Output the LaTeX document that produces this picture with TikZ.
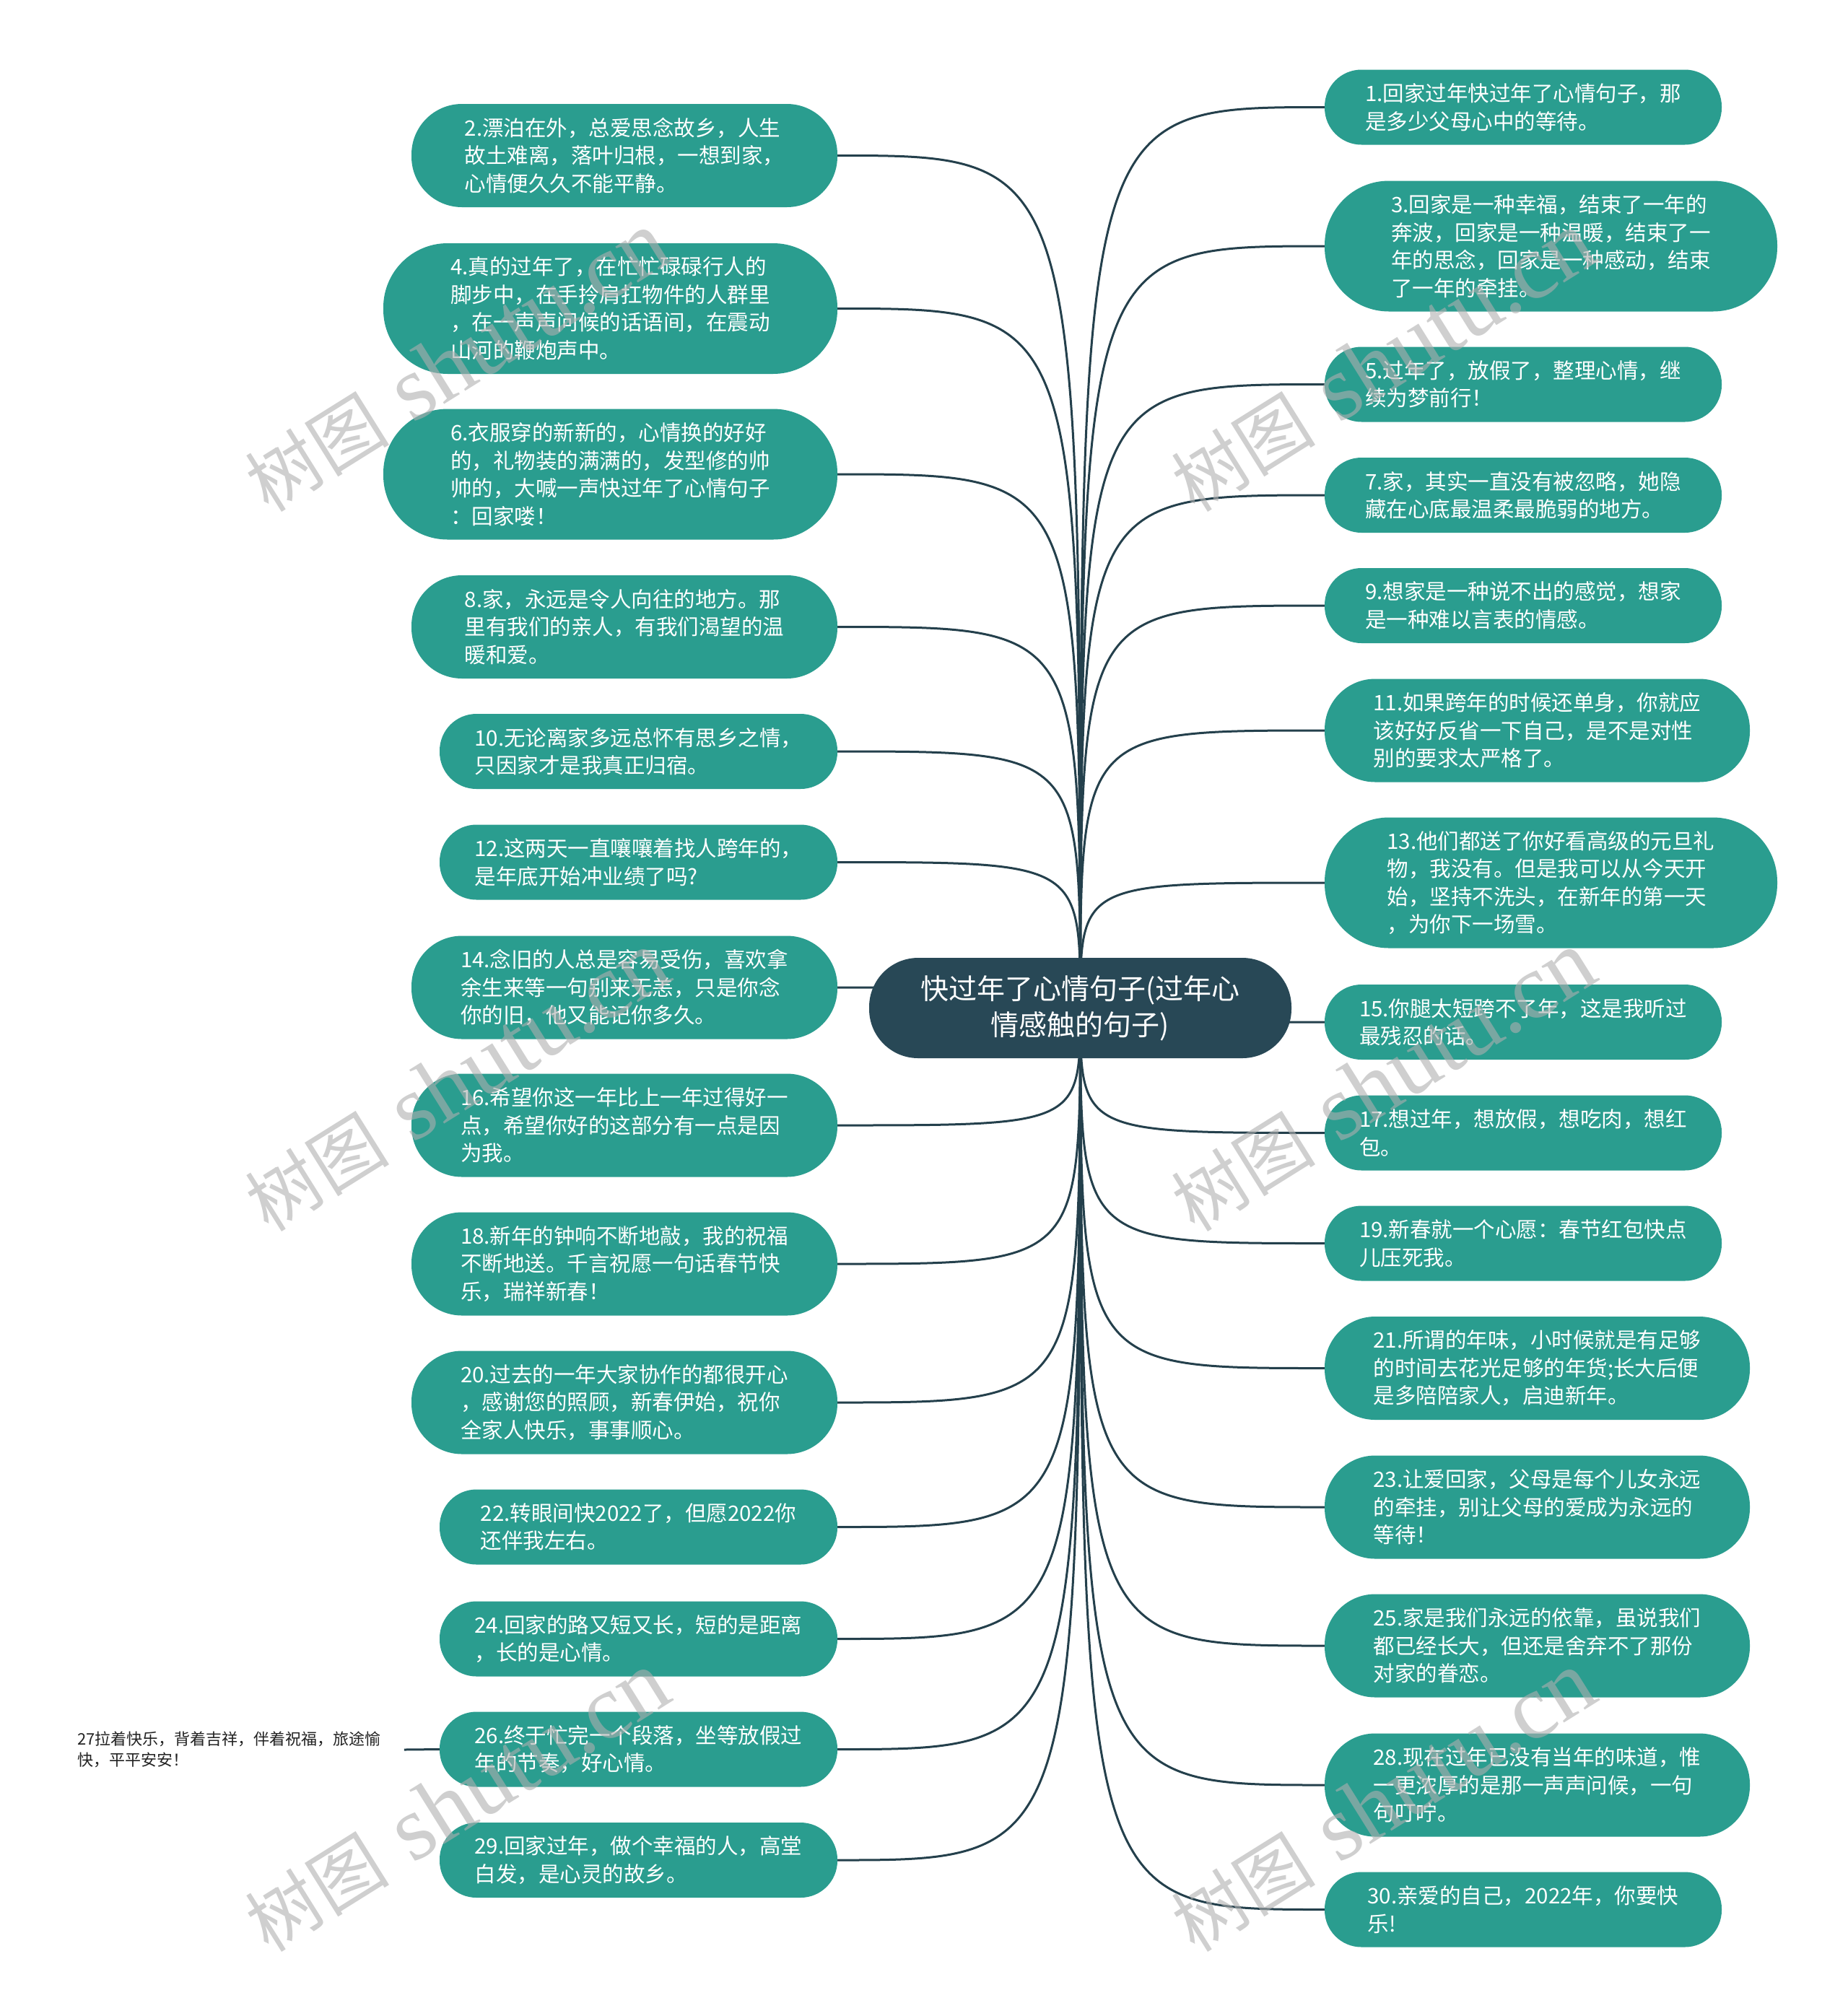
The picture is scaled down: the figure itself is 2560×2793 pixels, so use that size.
\documentclass[tikz,border=0pt]{standalone}
\usepackage{fontspec}
\setmainfont{Noto Sans CJK SC}
\newfontfamily\mmserif{Liberation Serif}
\usetikzlibrary{backgrounds}
\definecolor{leafteal}{HTML}{2A9D8F}
\definecolor{hubslate}{HTML}{284856}
\definecolor{linkcol}{HTML}{24404C}
\definecolor{notecol}{HTML}{222222}
\definecolor{wmgray}{RGB}{175,175,175}
\newcommand\mmleaf{\fontsize{29.5}{38.5}\selectfont}
\newcommand\mmhub{\fontsize{39}{50}\selectfont}
\newcommand\mmnote{\fontsize{22}{28.5}\selectfont}
\newcommand\mmwmcjk{\fontsize{100}{110}\selectfont}
\newcommand\mmwmlat{\mmserif\fontsize{128}{130}\selectfont}
\begin{document}
\begin{tikzpicture}[x=1pt,y=-1pt,
  every node/.style={inner sep=0pt},
  leaf/.style={fill=leafteal, text=white, align=left, font=\mmleaf},
  leafS/.style={leaf, minimum height=104pt, rounded corners=51pt},
  leafM/.style={leaf, minimum height=143pt, rounded corners=70pt},
  leafL/.style={leaf, minimum height=181pt, rounded corners=89pt},
  hub/.style={fill=hubslate, text=white, align=center, font=\mmhub, minimum width=585pt, minimum height=139pt, rounded corners=68pt},
  link/.style={draw=linkcol, line width=3pt},
  note/.style={text=notecol, align=left, font=\mmnote, inner xsep=32pt},
  wmark/.style={text=wmgray, text opacity=0.6, rotate=32, anchor=south west, inner sep=0pt}
]
\useasboundingbox (0,0) rectangle (2560,2793);

% hub
\node[hub] (c) at (1496.5,1396.5) {快过年了心情句子(过年心\\情感触的句子)};

% left column
\node[leafM, minimum width=590pt] (n2) at (865,215.5) {2.漂泊在外，总爱思念故乡，人生\\故土难离，落叶归根，一想到家，\\心情便久久不能平静。};
\node[leafL, minimum width=629pt] (n4) at (845.5,427.5) {4.真的过年了，在忙忙碌碌行人的\\脚步中，在手拎肩扛物件的人群里\\，在一声声问候的话语间，在震动\\山河的鞭炮声中。};
\node[leafL, minimum width=629pt] (n6) at (845.5,657) {6.衣服穿的新新的，心情换的好好\\的，礼物装的满满的，发型修的帅\\帅的，大喊一声快过年了心情句子\\：回家喽！};
\node[leafM, minimum width=590pt] (n8) at (865,868.5) {8.家，永远是令人向往的地方。那\\里有我们的亲人，有我们渴望的温\\暖和爱。};
\node[leafS, minimum width=551pt] (n10) at (884.5,1041) {10.无论离家多远总怀有思乡之情，\\只因家才是我真正归宿。};
\node[leafS, minimum width=551pt] (n12) at (884.5,1194.5) {12.这两天一直嚷嚷着找人跨年的，\\是年底开始冲业绩了吗?};
\node[leafM, minimum width=590pt] (n14) at (865,1368) {14.念旧的人总是容易受伤，喜欢拿\\余生来等一句别来无恙，只是你念\\你的旧，他又能记你多久。};
\node[leafM, minimum width=590pt] (n16) at (865,1559) {16.希望你这一年比上一年过得好一\\点，希望你好的这部分有一点是因\\为我。};
\node[leafM, minimum width=590pt] (n18) at (865,1751) {18.新年的钟响不断地敲，我的祝福\\不断地送。千言祝愿一句话春节快\\乐，瑞祥新春！};
\node[leafM, minimum width=590pt] (n20) at (865,1943) {20.过去的一年大家协作的都很开心\\，感谢您的照顾，新春伊始，祝你\\全家人快乐，事事顺心。};
\node[leafS, minimum width=551pt] (n22) at (884.5,2115.5) {22.转眼间快2022了，但愿2022你\\还伴我左右。};
\node[leafS, minimum width=551pt] (n24) at (884.5,2270.5) {24.回家的路又短又长，短的是距离\\，长的是心情。};
\node[leafS, minimum width=551pt] (n26) at (884.5,2423.5) {26.终于忙完一个段落，坐等放假过\\年的节奏，好心情。};
\node[leafS, minimum width=551pt] (n29) at (884.5,2577) {29.回家过年，做个幸福的人，高堂\\白发，是心灵的故乡。};
\node[note, anchor=west] (n27) at (75,2424) {27拉着快乐，背着吉祥，伴着祝福，旅途愉\\快，平平安安！};

% right column
\node[leafS, minimum width=550pt] (n1) at (2110,148.5) {1.回家过年快过年了心情句子，那\\是多少父母心中的等待。};
\node[leafL, minimum width=627pt] (n3) at (2148.5,341) {3.回家是一种幸福，结束了一年的\\奔波，回家是一种温暖，结束了一\\年的思念，回家是一种感动，结束\\了一年的牵挂。};
\node[leafS, minimum width=550pt] (n5) at (2110,532.5) {5.过年了，放假了，整理心情，继\\续为梦前行！};
\node[leafS, minimum width=550pt] (n7) at (2110,686) {7.家，其实一直没有被忽略，她隐\\藏在心底最温柔最脆弱的地方。};
\node[leafS, minimum width=550pt] (n9) at (2110,839) {9.想家是一种说不出的感觉，想家\\是一种难以言表的情感。};
\node[leafM, minimum width=589pt] (n11) at (2129.5,1012) {11.如果跨年的时候还单身，你就应\\该好好反省一下自己，是不是对性\\别的要求太严格了。};
\node[leafL, minimum width=627pt] (n13) at (2148.5,1223) {13.他们都送了你好看高级的元旦礼\\物，我没有。但是我可以从今天开\\始，坚持不洗头，在新年的第一天\\，为你下一场雪。};
\node[leafS, minimum width=550pt] (n15) at (2110,1416) {15.你腿太短跨不了年，这是我听过\\最残忍的话。};
\node[leafS, minimum width=550pt] (n17) at (2110,1569.5) {17.想过年，想放假，想吃肉，想红\\包。};
\node[leafS, minimum width=550pt] (n19) at (2110,1722.5) {19.新春就一个心愿：春节红包快点\\儿压死我。};
\node[leafM, minimum width=589pt] (n21) at (2129.5,1895.5) {21.所谓的年味，小时候就是有足够\\的时间去花光足够的年货;长大后便\\是多陪陪家人，启迪新年。};
\node[leafM, minimum width=589pt] (n23) at (2129.5,2088) {23.让爱回家，父母是每个儿女永远\\的牵挂，别让父母的爱成为永远的\\等待！};
\node[leafM, minimum width=589pt] (n25) at (2129.5,2280) {25.家是我们永远的依靠，虽说我们\\都已经长大，但还是舍弃不了那份\\对家的眷恋。};
\node[leafM, minimum width=589pt] (n28) at (2129.5,2473) {28.现在过年已没有当年的味道，惟\\一更浓厚的是那一声声问候，一句\\句叮咛。};
\node[leafS, minimum width=550pt] (n30) at (2110,2645.5) {30.亲爱的自己，2022年，你要快\\乐!};

% connectors (white page first, then lines, all behind the nodes)
\begin{scope}[on background layer]
\fill[white] (0,0) rectangle (2560,2793);
\foreach \t in {n2,n4,n6,n8,n10,n12,n14,n16,n18,n20,n22,n24,n26,n29}
  \draw[link] (c.center) .. controls (c.center |- \t.east) .. (\t.east);
\foreach \t in {n1,n3,n5,n7,n9,n11,n13,n15,n17,n19,n21,n23,n25,n28,n30}
  \draw[link] (c.center) .. controls (c.center |- \t.west) .. (\t.west);
\draw[link] (n26.west) -- (n27.east);
\end{scope}

% watermarks
\newcommand\mmwmtext{{\mmwmcjk 树图}\hspace{34pt}{\mmwmlat shutu.cn}}
\node[wmark] (wm1) at (377,719) {\mmwmtext};
\node[wmark] (wm2) at (1660,719) {\mmwmtext};
\node[wmark] (wm3) at (377,1716) {\mmwmtext};
\node[wmark] (wm4) at (1660,1716) {\mmwmtext};
\node[wmark] (wm5) at (377,2714) {\mmwmtext};
\node[wmark] (wm6) at (1660,2714) {\mmwmtext};
\end{tikzpicture}
\end{document}
